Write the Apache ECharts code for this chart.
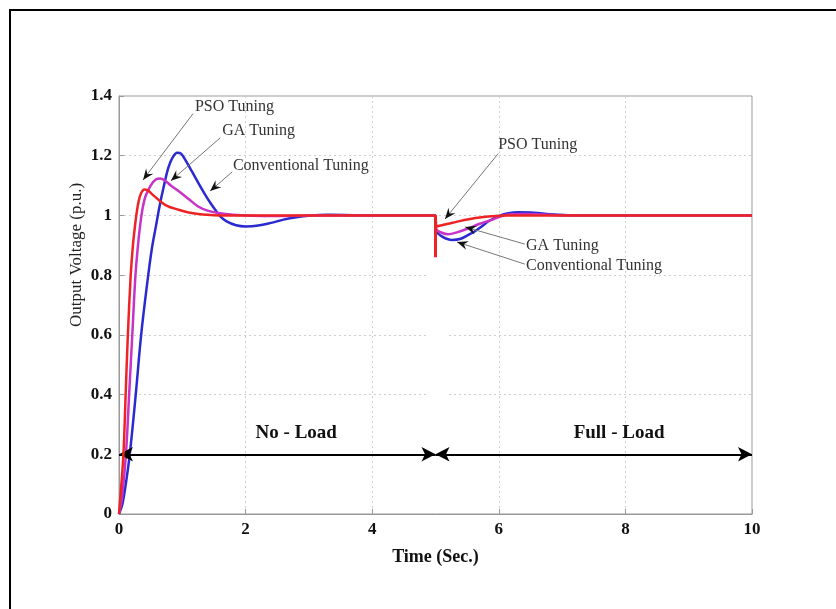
<!DOCTYPE html>
<html><head><meta charset="utf-8">
<script src="https://cdn.jsdelivr.net/npm/echarts@6/dist/echarts.min.js"></script>
<style>html,body{margin:0;padding:0;background:#fff}#c{width:836px;height:609px}</style>
</head><body><div id="c"></div>
<script>
// ---- data ----
const xTicks = [0, 2, 4, 6, 8, 10];
const yTicks = [0, 0.2, 0.4, 0.6, 0.8, 1, 1.2, 1.4];

// Conventional tuning (blue)
const convT = [0,0.05,0.1,0.17,0.26,0.35,0.45,0.52,0.58,0.64,0.7,0.78,0.85,0.92,0.98,1.05,1.15,1.25,1.36,1.45,1.52,1.6,1.7,1.85,2.0,2.2,2.4,2.6,2.8,3.0,3.3,3.7,4.2,5.0,
  5.01,5.1,5.26,5.4,5.52,5.63,5.73,5.85,5.99,6.15,6.31,6.5,6.62,6.8,7.1,7.5,10];
const convV = [0,0.03,0.09,0.2,0.39,0.6,0.78,0.89,0.96,1.03,1.09,1.16,1.195,1.21,1.207,1.185,1.148,1.11,1.07,1.04,1.019,0.997,0.98,0.967,0.963,0.966,0.975,0.986,0.994,0.999,1.002,1.001,1.0,1.0,
  0.95,0.93,0.918,0.922,0.935,0.948,0.963,0.982,0.997,1.007,1.011,1.01,1.008,1.004,1.001,1.0,1.0];

// GA tuning (magenta)
const gaT = [0,0.05,0.11,0.16,0.21,0.26,0.3,0.33,0.37,0.42,0.5,0.58,0.65,0.72,0.82,0.95,1.1,1.25,1.4,1.57,1.8,2.1,2.5,3.0,5.0,
  5.01,5.1,5.2,5.35,5.52,5.7,5.89,6.05,6.2,6.4,6.7,7.1,10];
const gaV = [0,0.06,0.2,0.4,0.6,0.8,0.9,0.96,1.02,1.065,1.1,1.12,1.124,1.118,1.1,1.08,1.055,1.03,1.016,1.008,1.002,0.999,0.998,1.0,1.0,
  0.955,0.942,0.937,0.944,0.957,0.972,0.985,0.998,1.004,1.005,1.003,1.0,1.0];

// PSO tuning (red)
const psoT = [0,0.03,0.07,0.105,0.14,0.185,0.22,0.25,0.28,0.31,0.35,0.4,0.46,0.54,0.62,0.75,0.94,1.1,1.25,1.5,2.0,5.0,
  5.01,5.1,5.2,5.36,5.55,5.7,5.89,6.1,10];
const psoV = [0,0.08,0.2,0.4,0.6,0.8,0.9,0.96,1.01,1.047,1.075,1.087,1.083,1.068,1.053,1.033,1.019,1.01,1.005,1.001,1.0,1.0,
  0.963,0.967,0.972,0.98,0.988,0.993,0.997,1.0,1.0];
// PSO load-step spike
const psoDropT = [5.0, 5.0];
const psoDropV = [1.0, 0.6];

// region arrows and labels
const loadArrowT = [0, 5, 10];
const loadArrowV = 0.2;
const loadLabels = ['No - Load', 'Full - Load'];
const loadLabelT = [2.8, 7.9];
const loadLabelV = 0.27;

// curve annotations: text (left, middle) and arrow from -> to, in data units
const annText = ['PSO Tuning', 'GA Tuning', 'Conventional Tuning', 'PSO Tuning', 'GA Tuning', 'Conventional Tuning'];
const annTextT = [1.20, 1.63, 1.80, 5.99, 6.43, 6.43];
const annTextV = [1.365, 1.284, 1.166, 1.237, 0.897, 0.830];
const annFromT = [1.17, 1.60, 1.79, 5.99, 6.41, 6.41];
const annFromV = [1.341, 1.26, 1.146, 1.207, 0.904, 0.837];
const annToT = [0.38, 0.82, 1.44, 5.15, 5.47, 5.34];
const annToV = [1.119, 1.116, 1.082, 0.988, 0.961, 0.911];

// white patch present in the reference image
const maskT = [4.9, 5.17];
const maskV = [0.86, 0.36];

// ---- build ----
const zip = (a, b) => a.map((v, i) => [v, b[i]]);
const SERIF = '"Liberation Serif", "Times New Roman", serif';

const chart = echarts.init(document.getElementById('c'), null, {renderer: 'canvas'});

const option = {
  animation: false,
  backgroundColor: '#fff',
  grid: {left: 119, right: 84, top: 96, bottom: 95, show: true, borderColor: '#999', borderWidth: 1},
  xAxis: {
    type: 'value', min: xTicks[0], max: xTicks[xTicks.length - 1], interval: 2,
    name: 'Time (Sec.)', nameLocation: 'middle', nameGap: 34,
    nameTextStyle: {fontFamily: SERIF, fontWeight: 'bold', fontSize: 18, color: '#111'},
    axisLine: {show: true, lineStyle: {color: '#999'}},
    axisTick: {show: true, inside: true, length: 5, lineStyle: {color: '#999'}},
    axisLabel: {fontFamily: SERIF, fontWeight: 'bold', fontSize: 17, color: '#111', margin: 7},
    splitLine: {show: true, lineStyle: {color: '#cfcfcf', type: [2, 3], width: 1}}
  },
  yAxis: {
    type: 'value', min: yTicks[0], max: yTicks[yTicks.length - 1], interval: 0.2,
    axisLine: {show: true, lineStyle: {color: '#999'}},
    axisTick: {show: true, inside: true, length: 5, lineStyle: {color: '#999'}},
    axisLabel: {fontFamily: SERIF, fontWeight: 'bold', fontSize: 17, color: '#111', margin: 7},
    splitLine: {show: true, lineStyle: {color: '#cfcfcf', type: [2, 3], width: 1}}
  },
  series: [
    {name: 'Conventional Tuning', type: 'line', data: zip(convT, convV), smooth: 0.35, showSymbol: false,
     lineStyle: {color: '#2a2ad0', width: 2.5}, itemStyle: {color: '#2a2ad0'}, z: 3},
    {name: 'GA Tuning', type: 'line', data: zip(gaT, gaV), smooth: 0.35, showSymbol: false,
     lineStyle: {color: '#c733c7', width: 2.5}, itemStyle: {color: '#c733c7'}, z: 4},
    {name: 'PSO Tuning', type: 'line', data: zip(psoT, psoV), smooth: 0.35, showSymbol: false,
     lineStyle: {color: '#ee2424', width: 2.5}, itemStyle: {color: '#ee2424'}, z: 5},
    {name: 'PSO step', type: 'line', data: zip(psoDropT, psoDropV), showSymbol: false,
     lineStyle: {color: '#ee2424', width: 3}, z: 5,
     markLine: {
       silent: true, symbol: ['arrow', 'arrow'], symbolSize: [11, 14], label: {show: false},
       lineStyle: {color: '#000', width: 2, type: 'solid'},
       data: [
         [{coord: [loadArrowT[0], loadArrowV]}, {coord: [loadArrowT[1], loadArrowV]}],
         [{coord: [loadArrowT[1], loadArrowV]}, {coord: [loadArrowT[2], loadArrowV]}]
       ]
     }}
  ]
};
chart.setOption(option);

function px(t, v) { return chart.convertToPixel({gridIndex: 0}, [t, v]); }

const g = [];
// outer frame (top and left edges)
g.push({type: 'polyline', shape: {points: [[10, 609], [10, 10], [836, 10]]},
        style: {stroke: '#000', lineWidth: 2, fill: null}, z: 200});

// white patch
const m1 = px(maskT[0], maskV[0]), m2 = px(maskT[1], maskV[1]);
g.push({type: 'rect', shape: {x: m1[0], y: m1[1], width: m2[0] - m1[0], height: m2[1] - m1[1]},
        style: {fill: '#fff'}, z: 150});

// y-axis name
g.push({type: 'text', x: 77, y: 255, rotation: Math.PI / 2,
        style: {text: 'Output Voltage (p.u.)', font: '17px ' + SERIF, fill: '#222', align: 'center', verticalAlign: 'middle'}, z: 200});

// load labels
loadLabels.forEach((s, i) => {
  const p = px(loadLabelT[i], loadLabelV);
  g.push({type: 'text', x: p[0], y: p[1],
          style: {text: s, font: 'bold 19px ' + SERIF, fill: '#111', align: 'center', verticalAlign: 'middle'}, z: 200});
});

// annotations
annText.forEach((s, i) => {
  const tp = px(annTextT[i], annTextV[i]);
  g.push({type: 'text', x: tp[0], y: tp[1],
          style: {text: s, font: '16px ' + SERIF, fill: '#333', align: 'left', verticalAlign: 'middle'}, z: 200});
  const a = px(annFromT[i], annFromV[i]), b = px(annToT[i], annToV[i]);
  g.push({type: 'line', shape: {x1: a[0], y1: a[1], x2: b[0], y2: b[1]},
          style: {stroke: '#777', lineWidth: 1}, z: 200});
  const dx = b[0] - a[0], dy = b[1] - a[1], L = Math.hypot(dx, dy);
  const ux = dx / L, uy = dy / L, nx = -uy, ny = ux;
  const len = 11, w = 4.5;
  g.push({type: 'polygon', shape: {points: [
      [b[0], b[1]],
      [b[0] - ux * len + nx * w, b[1] - uy * len + ny * w],
      [b[0] - ux * len * 0.65, b[1] - uy * len * 0.65],
      [b[0] - ux * len - nx * w, b[1] - uy * len - ny * w]
    ]}, style: {fill: '#111'}, z: 201});
});

chart.setOption({graphic: {elements: g}});
</script>
</body></html>
